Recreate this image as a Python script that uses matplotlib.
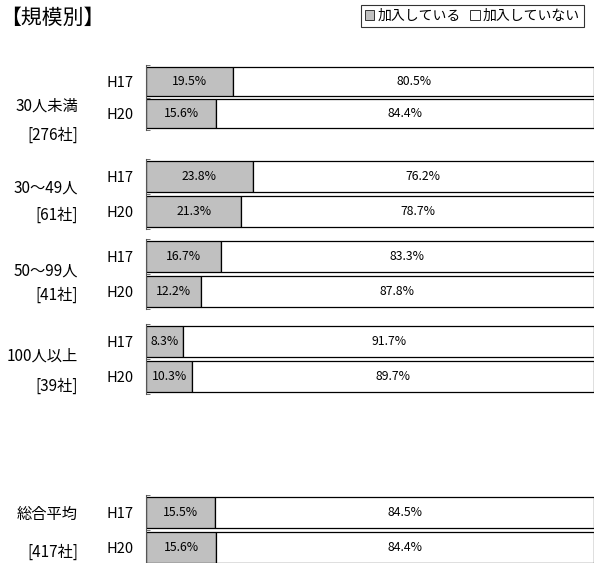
import matplotlib.pyplot as plt
from matplotlib.patches import Patch

plt.rcParams['font.family'] = ['Noto Sans CJK JP', 'DejaVu Sans']

groups = ['30人未満', '30～49人', '50～99人', '100人以上', '総合平均']
counts = ['[276社]', '[61社]', '[41社]', '[39社]', '[417社]']
years = ['H17', 'H20']
joined_h17 = [19.5, 23.8, 16.7, 8.3, 15.5]
joined_h20 = [15.6, 21.3, 12.2, 10.3, 15.6]
notjoined_h17 = [80.5, 76.2, 83.3, 91.7, 84.5]
notjoined_h20 = [84.4, 78.7, 87.8, 89.7, 84.4]

W, H = 603, 563
fig = plt.figure(figsize=(W / 100, H / 100), dpi=100)

# pixel extents (top, bottom) of each group's axes
spans = [(65, 130), (159, 229), (239, 309), (324, 394), (495, 565)]
# pixel y of the group name and the company count
label_y = [(106, 135), (188, 215), (271, 295), (356, 386), (514, 552)]
x0, x1 = 146, 594
gray = '#c0c0c0'

for i, (top, bot) in enumerate(spans):
    ax = fig.add_axes([x0 / W, 1 - bot / H, (x1 - x0) / W, (bot - top) / H])
    j = [joined_h17[i], joined_h20[i]]
    n = [notjoined_h17[i], notjoined_h20[i]]
    ax.barh([0, 1], j, height=0.9, color=gray, edgecolor='black', linewidth=0.9)
    ax.barh([0, 1], n, left=j, height=0.9, color='white', edgecolor='black', linewidth=0.9)
    for k in range(2):
        ax.text(j[k] / 2, k, f'{j[k]:.1f}%', ha='center', va='center', fontsize=8.8)
        ax.text(j[k] + n[k] / 2, k, f'{n[k]:.1f}%', ha='center', va='center', fontsize=8.8)
    ax.set_xlim(0, 100)
    ax.set_ylim(1.5, -0.5)
    ax.set_yticks([0, 1])
    ax.set_yticklabels(years, fontsize=10.5)
    ax.tick_params(axis='y', length=0, pad=9)
    ax.set_yticks([-0.5, 0.5, 1.5], minor=True)
    ax.tick_params(axis='y', which='minor', direction='in', length=3, color='#555555')
    ax.set_xticks([])
    for s in ['top', 'right', 'bottom']:
        ax.spines[s].set_visible(False)
    ax.spines['left'].set_color('#555555')
    ax.spines['left'].set_linewidth(0.8)

    ly, cy = label_y[i]
    fig.text(78 / W, 1 - ly / H, groups[i], ha='right', va='center', fontsize=11)
    fig.text(78 / W, 1 - cy / H, counts[i], ha='right', va='center', fontsize=11)

fig.text(0, 1 - 18 / H, '【規模別】', ha='left', va='center', fontsize=15)

handles = [Patch(facecolor=gray, edgecolor='#333333', linewidth=0.7),
           Patch(facecolor='white', edgecolor='#333333', linewidth=0.7)]
leg = fig.legend(handles, ['加入している', '加入していない'], loc='upper right',
                 bbox_to_anchor=(584 / W, 1 - 5 / H), ncol=2, fontsize=10,
                 frameon=True, fancybox=False, edgecolor='black',
                 handlelength=0.7, handleheight=0.7, handletextpad=0.2,
                 columnspacing=0.7, borderpad=0.3, borderaxespad=0)
leg.get_frame().set_linewidth(0.8)

fig.savefig('out.png', dpi=100)
